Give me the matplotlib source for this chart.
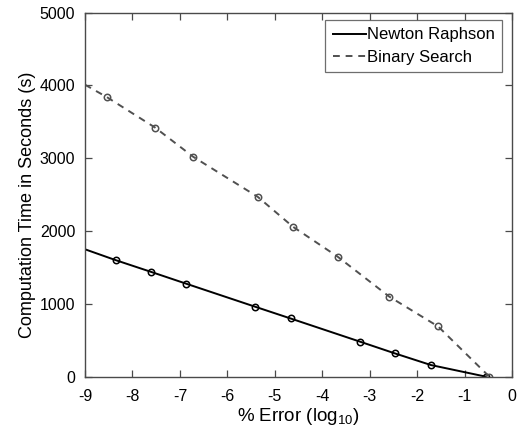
"""Tempo de computação: Newton Raphson vs Binary Search."""

import matplotlib

matplotlib.use("Agg")
import matplotlib.pyplot as plt

plt.rcParams["font.family"] = ["Liberation Sans", "DejaVu Sans"]
plt.rcParams["mathtext.fontset"] = "custom"
plt.rcParams["mathtext.rm"] = "Liberation Sans"
plt.rcParams["mathtext.it"] = "Liberation Sans"
plt.rcParams["axes.unicode_minus"] = False

# marcadores (log10 do erro percentual, segundos)
newton_x = [-8.35, -7.61, -6.88, -5.41, -4.67, -3.20, -2.47, -1.71, -0.55]
newton_y = [1600, 1440, 1280, 960, 800, 480, 320, 160, 0]
binary_x = [-8.54, -7.52, -6.72, -5.36, -4.62, -3.68, -2.59, -1.56, -0.48]
binary_y = [3840, 3420, 3020, 2470, 2060, 1650, 1100, 690, 0]

# início das curvas na borda esquerda
newton_start = (-9.0, 1750)
binary_start = (-9.0, 4010)

x_ticks = [-9, -8, -7, -6, -5, -4, -3, -2, -1, 0]
y_ticks = [0, 1000, 2000, 3000, 4000, 5000]

fig = plt.figure(figsize=(5.28, 4.36), dpi=100)
ax = fig.add_axes([0.161, 0.136, 0.809, 0.835])

axis_color = "#4a4a4a"
gray = "#505050"

ax.plot([newton_start[0]] + newton_x, [newton_start[1]] + newton_y,
        color="black", linewidth=1.4, label="Newton Raphson")
ax.plot(newton_x, newton_y, linestyle="none", marker="o", markersize=4.6,
        markerfacecolor="none", markeredgecolor="black", markeredgewidth=1.1)

ax.plot([binary_start[0]] + binary_x, [binary_start[1]] + binary_y,
        color=gray, linewidth=1.4, linestyle=(0, (3.5, 3)), label="Binary Search")
ax.plot(binary_x, binary_y, linestyle="none", marker="o", markersize=4.6,
        markerfacecolor="none", markeredgecolor=gray, markeredgewidth=1.1)

ax.set_xlim(-9, 0)
ax.set_ylim(0, 5000)
ax.set_xticks(x_ticks)
ax.set_yticks(y_ticks)
ax.tick_params(direction="in", length=5, width=0.9, color=axis_color,
               top=True, right=True, labelsize=11.5)
ax.tick_params(axis="x", pad=9)
ax.tick_params(axis="y", pad=7)
for spine in ax.spines.values():
    spine.set_color(axis_color)
    spine.set_linewidth(1.0)

ax.set_xlabel("% Error (log$_{10}$)", fontsize=13.5, labelpad=1)
ax.set_ylabel("Computation Time in Seconds (s)", fontsize=13)
ax.yaxis.set_label_coords(-0.115, 0.472)

legend = ax.legend(loc="upper right", fontsize=12, frameon=True, fancybox=False,
                   edgecolor=axis_color, handlelength=2.0, handletextpad=0.05,
                   borderpad=0.45, labelspacing=0.45, borderaxespad=0,
                   bbox_to_anchor=(0.977, 0.98))
legend.get_frame().set_linewidth(0.9)

fig.savefig("out.png", dpi=100)
plt.close(fig)
